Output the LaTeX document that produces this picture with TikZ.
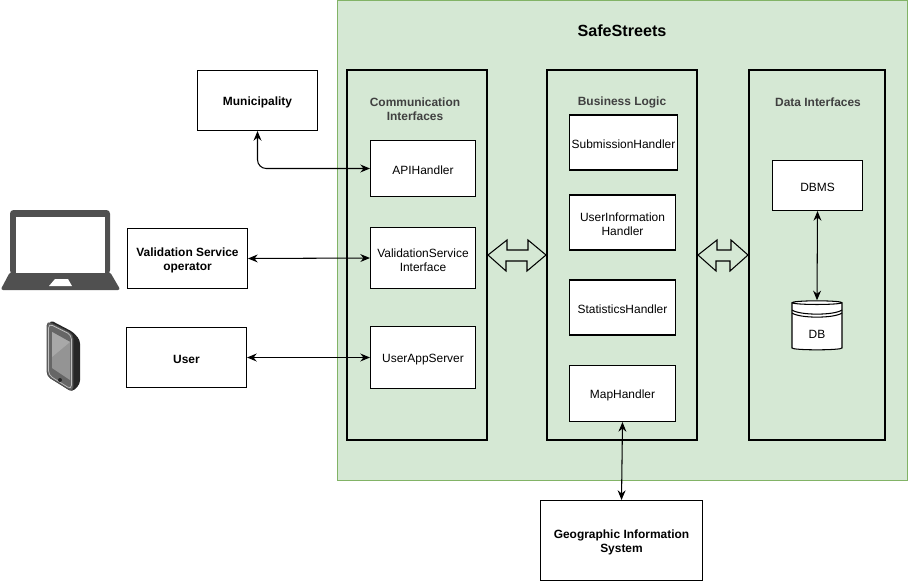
\documentclass[tikz,border=0pt]{standalone}
\usepackage{fontspec}
\setmainfont{Liberation Sans}
\usetikzlibrary{arrows.meta,shapes.geometric}
\definecolor{panelgreen}{HTML}{D5E8D4}
\definecolor{panelline}{HTML}{82B366}
\definecolor{laptopgray}{HTML}{505050}
\tikzset{
  >={Stealth[length=5.5pt,width=4.5pt]},
  link/.style={<->, line width=0.6pt},
  plainbox/.style={draw, fill=white, line width=0.6pt, align=center, inner sep=0pt, font=\fontsize{6.8}{8}\selectfont},
  box/.style={plainbox, execute at begin node={\rule{0pt}{6.6pt}}},
  actor/.style={box, font=\fontsize{6.8}{8}\selectfont\bfseries},
  twolines/.style={execute at begin node={\rule{0pt}{15.2pt}}},
  group/.style={draw, line width=1.15pt, inner sep=0pt},
  grouptitle/.style={align=center, text=black!75, font=\fontsize{6.8}{8}\selectfont\bfseries},
  blockarrow/.style={draw, line width=0.6pt, fill=panelgreen, line join=miter}
}
\begin{document}
\begin{tikzpicture}[x=0.02cm, y=-0.02cm]
    \useasboundingbox (0, 0) rectangle (908, 581);

    % Green panel
    \node[draw=panelline, fill=panelgreen, line width=0.6pt, minimum width=11.4cm, minimum height=9.6cm, inner sep=0pt] (panel) at (622.5, 240.5) {};
    \node[font=\fontsize{9.2}{11}\selectfont\bfseries] (title) at (622, 31) {SafeStreets};

    % Containers
    \node[group, minimum width=2.8cm, minimum height=7.4cm] (comm) at (417, 255) {};
    \node[group, minimum width=3cm, minimum height=7.4cm] (logic) at (622, 255) {};
    \node[group, minimum width=2.72cm, minimum height=7.4cm] (data) at (817, 255) {};
    \node[grouptitle] (commtitle) at (415, 109) {Communication\\Interfaces};
    \node[grouptitle] (logictitle) at (622, 102) {Business Logic};
    \node[grouptitle] (datatitle) at (818, 102) {Data Interfaces};

    % Communication interfaces
    \node[box, minimum width=2.1cm, minimum height=1.12cm] (api) at (423, 168.5) {APIHandler};
    \node[box, twolines, minimum width=2.1cm, minimum height=1.22cm] (validation) at (423, 258) {ValidationService\\Interface};
    \node[box, minimum width=2.1cm, minimum height=1.24cm] (userapp) at (423, 357.5) {UserAppServer};

    % Business logic
    \node[box, minimum width=2.16cm, minimum height=1.1cm] (submission) at (623.5, 142.5) {SubmissionHandler};
    \node[box, twolines, minimum width=2.12cm, minimum height=1.1cm] (userinfo) at (622.5, 222.5) {UserInformation\\Handler};
    \node[box, minimum width=2.12cm, minimum height=1.1cm] (statistics) at (622.5, 307.5) {StatisticsHandler};
    \node[box, minimum width=2.12cm, minimum height=1.12cm] (map) at (622.5, 393.5) {MapHandler};

    % Data interfaces
    \node[box, minimum width=1.8cm, minimum height=1cm] (dbms) at (817.5, 185.5) {DBMS};
    \node[plainbox, cylinder, shape border rotate=90, aspect=0.22, minimum width=1cm, minimum height=0.98cm] (db) at (817, 326.5) {\phantom{DB}};
    \node[font=\fontsize{6.8}{8}\selectfont] (dblabel) at (817, 334.5) {DB};
    \draw[line width=0.6pt] (792, 310) .. controls (800, 315.5) and (834, 315.5) .. (842, 310);
    \draw[line width=0.6pt] (792, 313) .. controls (800, 318.5) and (834, 318.5) .. (842, 313);

    % Outside boxes
    \node[actor, minimum width=2.4cm, minimum height=1.2cm] (municipality) at (257.5, 100.5) {Municipality};
    \node[actor, twolines, minimum width=2.4cm, minimum height=1.2cm] (operator) at (187.5, 258.5) {Validation Service\\operator};
    \node[actor, minimum width=2.4cm, minimum height=1.2cm] (user) at (186.5, 357.5) {User};
    \node[actor, twolines, minimum width=3.24cm, minimum height=1.6cm] (gis) at (621.5, 540.5) {Geographic Information\\System};

    % Thin arrows
    \draw[link, rounded corners=5pt] (municipality.south) -- (257.5, 168.5) -- (api.west);
    \draw[link] (operator.east) -- (validation.west);
    \draw[link] (user.east) -- (userapp.west);
    \draw[link] (map.south) -- (gis.north);
    \draw[link] (dbms.south) -- (db.north);

    % Block arrows
    \draw[blockarrow] (comm.east) -- ++(19, -15) -- ++(0, 10) -- ++(21, 0) -- ++(0, -10) -- (logic.west) -- ++(-19, 16) -- ++(0, -10) -- ++(-21, 0) -- ++(0, 10) -- cycle;
    \draw[blockarrow] (logic.east) -- ++(19, -15) -- ++(0, 10) -- ++(14, 0) -- ++(0, -10) -- (data.west) -- ++(-18, 16) -- ++(0, -10) -- ++(-14, 0) -- ++(0, 10) -- cycle;

    % Laptop
    \fill[laptopgray, rounded corners=2pt] (10, 274) -- (10, 210) -- (110, 210) -- (110, 274) -- cycle;
    \fill[laptopgray, rounded corners=1.5pt] (10, 272) -- (110, 272) -- (120.5, 290) -- (0.5, 290) -- cycle;
    \fill[white] (16, 217) rectangle (105, 273);
    \fill[white] (55, 279) -- (68, 279) -- (72, 286) -- (49, 286) -- cycle;

    % Phone
    \fill[black!85, rounded corners=2pt] (50, 320) -- (73, 332) -- (80, 340) -- (80, 384) -- (72, 392) -- (47, 376) -- cycle;
    \fill[black!60, draw=black!70, line width=0.4pt, rounded corners=2.5pt] (47, 321) -- (73, 334) -- (73, 392) -- (47, 376) -- cycle;
    \draw[black!25, line width=0.4pt, rounded corners=2.5pt] (48.5, 323.5) -- (71.5, 335) -- (71.5, 389.5) -- (48.5, 375) -- cycle;
    \fill[black!42] (52, 332) -- (70, 342) -- (70, 380) -- (52, 368) -- cycle;
    \fill[black!34] (52, 332) -- (70, 342) -- (52, 357) -- cycle;
    \fill[black!85] (60, 380) circle (2);
\end{tikzpicture}
\end{document}
